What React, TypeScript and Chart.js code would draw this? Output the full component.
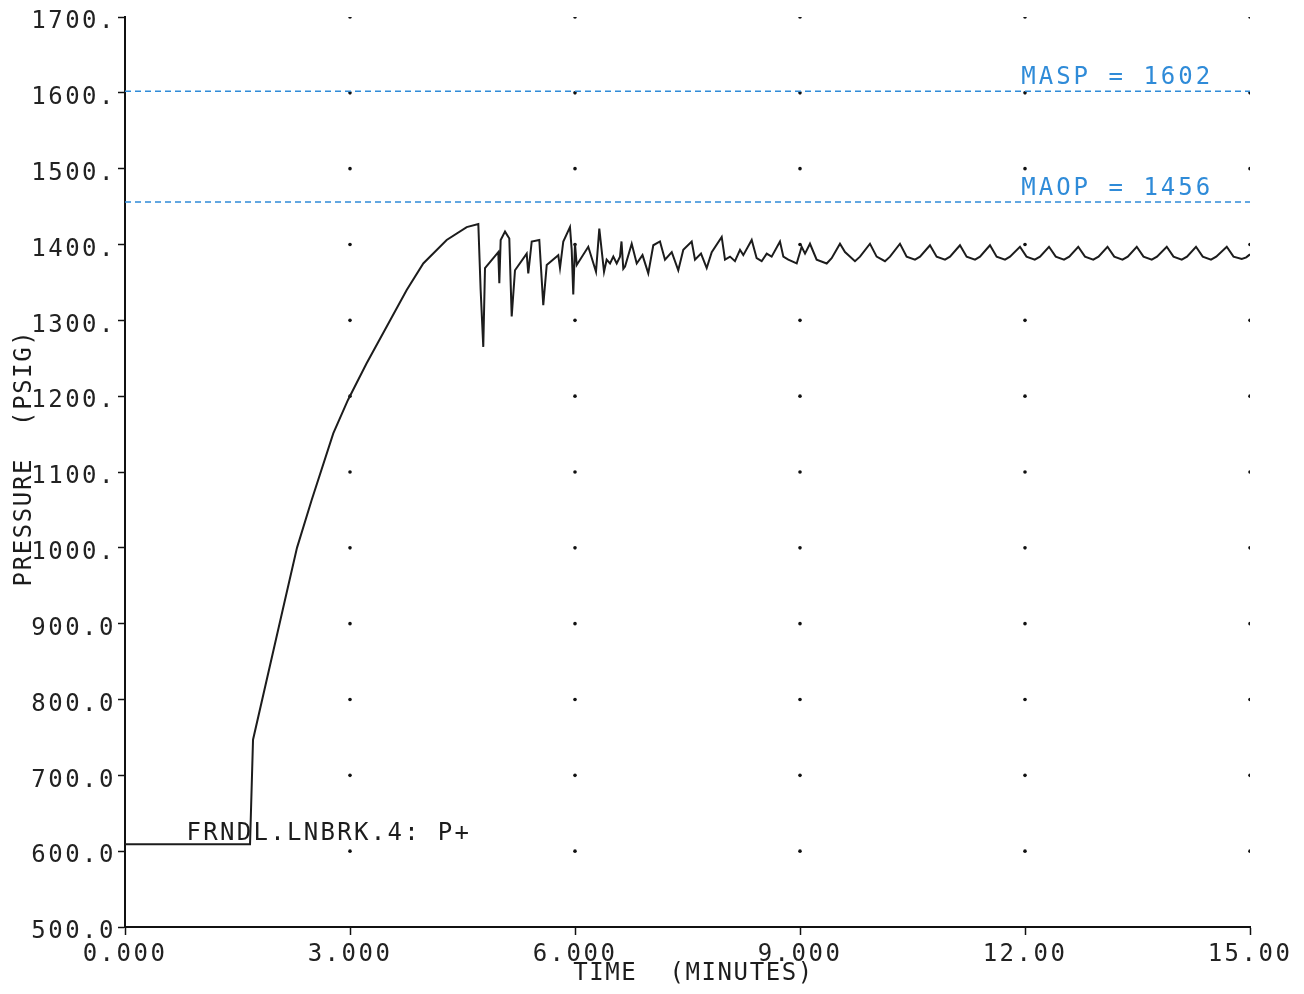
import React, { useEffect, useRef } from "react";
import { Chart, registerables } from "chart.js";

Chart.register(...registerables);

// ---- data ----
const timeMin: number[] = [
  0, 1.667, 1.707, 2.107, 2.293, 2.489, 2.777, 2.973, 3.22, 3.49, 3.756, 3.977, 4.289, 4.556, 4.711,
  4.742, 4.777, 4.8, 4.977, 4.991, 5.009, 5.067, 5.124, 5.156, 5.2, 5.356, 5.377, 5.423, 5.524, 5.577, 5.623,
  5.777, 5.8, 5.844, 5.933, 5.956, 5.977, 6.0, 6.023, 6.177, 6.28, 6.324, 6.387, 6.422, 6.467, 6.511, 6.556,
  6.6, 6.62, 6.644, 6.667, 6.756, 6.823, 6.9, 6.977, 7.044, 7.133, 7.2, 7.29, 7.377, 7.444, 7.556, 7.6, 7.68,
  7.756, 7.823, 7.956, 8.0, 8.067, 8.133, 8.2, 8.244, 8.356, 8.422, 8.489, 8.556, 8.622, 8.733, 8.778, 8.844,
  8.956, 9.022, 9.067, 9.133, 9.222, 9.356, 9.422, 9.533, 9.6, 9.733, 9.8, 9.933, 10.022, 10.133, 10.2, 10.333,
  10.422, 10.533, 10.6, 10.733, 10.822, 10.933, 11.0, 11.133, 11.222, 11.333, 11.4, 11.533, 11.622, 11.733, 11.8,
  11.933, 12.02, 12.13, 12.2, 12.32, 12.41, 12.52, 12.59, 12.71, 12.8, 12.91, 12.98, 13.1, 13.19, 13.3, 13.37,
  13.49, 13.58, 13.69, 13.76, 13.89, 13.98, 14.09, 14.16, 14.28, 14.37, 14.48, 14.55, 14.69, 14.78, 14.89, 14.95,
  15.0,
];

const pressurePsig: number[] = [
  609, 609, 747, 920, 1000, 1063, 1151, 1195, 1243, 1292, 1340, 1375, 1406, 1423, 1427,
  1340, 1265, 1369, 1390, 1349, 1406, 1417, 1408, 1305, 1366, 1388, 1362, 1404, 1406, 1320, 1373,
  1386, 1369, 1404, 1423, 1393, 1334, 1401, 1373, 1397, 1364, 1421, 1364, 1380, 1375, 1384, 1375,
  1384, 1404, 1368, 1371, 1401, 1375, 1386, 1362, 1399, 1404, 1380, 1390, 1366, 1393, 1404, 1380, 1388,
  1369, 1390, 1410, 1380, 1384, 1378, 1393, 1386, 1406, 1382, 1378, 1388, 1384, 1404, 1384, 1380,
  1375, 1397, 1388, 1401, 1380, 1375, 1382, 1401, 1390, 1378, 1384, 1401, 1384, 1378, 1384, 1401,
  1384, 1380, 1384, 1399, 1384, 1380, 1384, 1399, 1384, 1380, 1384, 1399, 1384, 1380, 1384,
  1397, 1384, 1380, 1384, 1397, 1384, 1380, 1384, 1397, 1384, 1380, 1384, 1397, 1384, 1380, 1384,
  1397, 1384, 1380, 1384, 1397, 1384, 1380, 1384, 1397, 1384, 1380, 1384, 1397, 1384, 1381, 1383,
  1387,
];

const maspValue = 1602;
const maopValue = 1456;
const limitLabels: string[] = ["MASP = 1602", "MAOP = 1456"];
const limitValues: number[] = [maspValue, maopValue];
const limitLabelTime = 11.95;

const seriesLabel = "FRNDL.LNBRK.4: P+";
const seriesLabelTime = 0.82;
const seriesLabelPressure = 615;

const xTickValues: number[] = [0, 3, 6, 9, 12, 15];
const xTickLabels: string[] = ["0.000", "3.000", "6.000", "9.000", "12.00", "15.00"];
const yTickValues: number[] = [500, 600, 700, 800, 900, 1000, 1100, 1200, 1300, 1400, 1500, 1600, 1700];
const yTickLabels: string[] = [
  "500.0", "600.0", "700.0", "800.0", "900.0", "1000.", "1100.", "1200.", "1300.", "1400.", "1500.", "1600.", "1700.",
];

const xTitle = "TIME  (MINUTES)";
const yTitle = "PRESSURE  (PSIG)";

const FONT = '"DejaVu Sans Mono", monospace';
const BLUE = "#2f8bd8";
const INK = "#1c1c1c";

export default function App() {
  const canvasRef = useRef<HTMLCanvasElement | null>(null);

  useEffect(() => {
    const canvas = canvasRef.current;
    if (!canvas) return;

    const gridDots: { x: number; y: number }[] = [];
    xTickValues.slice(1).forEach((xv) => {
      yTickValues.slice(1).forEach((yv) => gridDots.push({ x: xv, y: yv }));
    });

    const textPlugin = {
      id: "plotterText",
      beforeDraw(chart: any) {
        const ctx = chart.ctx;
        ctx.save();
        ctx.fillStyle = "#ffffff";
        ctx.fillRect(0, 0, chart.width, chart.height);
        ctx.restore();
        ctx.letterSpacing = "2.5px";
      },
      afterDraw(chart: any) {
        const ctx = chart.ctx;
        const xs = chart.scales.x;
        const ys = chart.scales.y;
        ctx.save();
        ctx.letterSpacing = "3px";
        ctx.font = `24px ${FONT}`;
        ctx.textBaseline = "alphabetic";
        ctx.textAlign = "left";
        ctx.fillStyle = BLUE;
        limitLabels.forEach((lab, i) => {
          ctx.fillText(lab, xs.getPixelForValue(limitLabelTime), ys.getPixelForValue(limitValues[i]) - 7);
        });
        ctx.fillStyle = INK;
        ctx.letterSpacing = "2.3px";
        ctx.fillText(seriesLabel, xs.getPixelForValue(seriesLabelTime), ys.getPixelForValue(seriesLabelPressure));

        // axis titles
        ctx.letterSpacing = "1.6px";
        ctx.textAlign = "center";
        ctx.fillText(xTitle, (xs.left + xs.right) / 2 + 6, 980);
        ctx.save();
        ctx.translate(31, (ys.top + ys.bottom) / 2 - 14);
        ctx.rotate(-Math.PI / 2);
        ctx.fillText(yTitle, 0, 0);
        ctx.restore();
        ctx.restore();
      },
    };

    const chart = new Chart(canvas, {
      type: "line",
      data: {
        datasets: [
          {
            label: "P+",
            data: timeMin.map((t, i) => ({ x: t, y: pressurePsig[i] })),
            borderColor: INK,
            borderWidth: 2,
            pointRadius: 0,
            tension: 0,
            fill: false,
          },
          {
            label: "MASP",
            data: [
              { x: xTickValues[0], y: maspValue },
              { x: xTickValues[xTickValues.length - 1], y: maspValue },
            ],
            borderColor: BLUE,
            borderWidth: 1.5,
            borderDash: [6, 4],
            pointRadius: 0,
          },
          {
            label: "MAOP",
            data: [
              { x: xTickValues[0], y: maopValue },
              { x: xTickValues[xTickValues.length - 1], y: maopValue },
            ],
            borderColor: BLUE,
            borderWidth: 1.5,
            borderDash: [6, 4],
            pointRadius: 0,
          },
          {
            type: "scatter",
            label: "grid",
            data: gridDots,
            showLine: false,
            pointRadius: 1.8,
            pointBackgroundColor: "#111",
            pointBorderWidth: 0,
          } as any,
        ],
      },
      options: {
        responsive: false,
        animation: false,
        events: [],
        layout: { padding: { top: 17, right: 54, left: 0, bottom: 0 } },
        plugins: {
          legend: { display: false },
          tooltip: { enabled: false },
          title: { display: false },
        },
        scales: {
          x: {
            type: "linear",
            min: 0,
            max: 15,
            afterBuildTicks: (s: any) => {
              s.ticks = xTickValues.map((v) => ({ value: v }));
            },
            afterFit: (s: any) => {
              s.height = 67;
            },
            border: { display: true, color: "#111", width: 2 },
            grid: {
              display: true,
              drawOnChartArea: false,
              drawTicks: true,
              tickLength: 8,
              tickColor: "#111",
              tickWidth: 1.5,
            },
            ticks: {
              autoSkip: false,
              maxRotation: 0,
              color: "#222",
              padding: 5,
              font: { family: FONT, size: 24 },
              callback: (_v: any, i: number) => xTickLabels[i],
            },
          },
          y: {
            type: "linear",
            min: 500,
            max: 1700,
            afterBuildTicks: (s: any) => {
              s.ticks = yTickValues.map((v) => ({ value: v }));
            },
            afterFit: (s: any) => {
              s.width = 125;
            },
            border: { display: true, color: "#111", width: 2 },
            grid: {
              display: true,
              drawOnChartArea: false,
              drawTicks: true,
              tickLength: 7,
              tickColor: "#111",
              tickWidth: 1.5,
            },
            ticks: {
              autoSkip: false,
              color: "#222",
              padding: 2,
              labelOffset: 5,
              font: { family: FONT, size: 24 },
              callback: (_v: any, i: number) => yTickLabels[i],
            },
          },
        },
      },
      plugins: [textPlugin],
    } as any);

    return () => chart.destroy();
  }, []);

  return (
    <div style={{ position: "absolute", left: 0, top: 0, width: 1304, height: 994, background: "#fff" }}>
      <canvas ref={canvasRef} width={1304} height={994} style={{ width: 1304, height: 994, display: "block" }} />
    </div>
  );
}
